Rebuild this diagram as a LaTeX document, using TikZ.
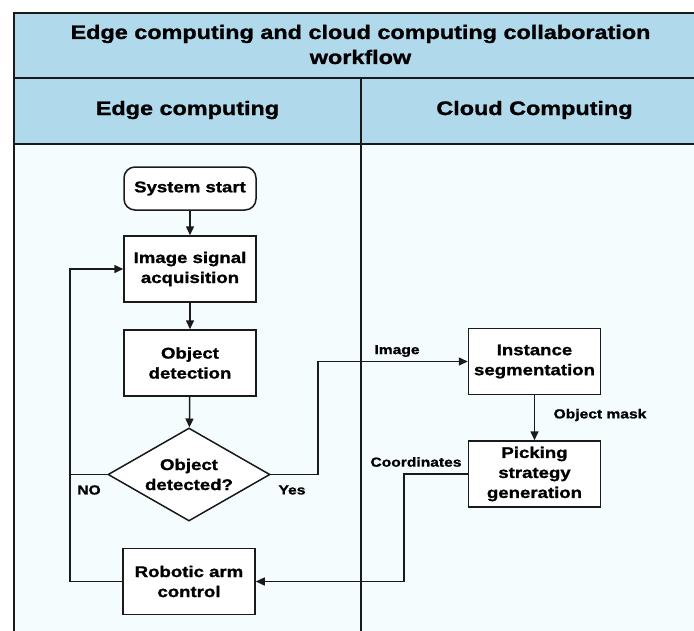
\documentclass[tikz,border=0pt]{standalone}
\usepackage{fontspec}
\setmainfont{Liberation Sans}[FakeStretch=1.2, BoldFeatures={FakeBold=1.2}]
\usetikzlibrary{shapes.geometric,arrows.meta}
\definecolor{hdr}{HTML}{B1D9EC}
\definecolor{bodybg}{HTML}{F5FCFE}
\definecolor{ln}{HTML}{1A1A1A}
\begin{document}
\begin{tikzpicture}[x=1pt,y=-1pt,
  ln/.style={line width=1.5pt, draw=ln},
  box/.style={draw=ln, line width=1.5pt, fill=white, minimum width=132pt, minimum height=66pt,
    align=center, inner sep=2pt, font=\fontsize{15.5}{20}\selectfont\bfseries},
  startbox/.style={box, rounded corners=11pt, minimum height=43pt},
  decision/.style={draw=ln, line width=1.5pt, fill=white, shape=diamond, aspect=1.74,
    minimum width=162pt, minimum height=93pt, inner sep=0pt, align=center,
    font=\fontsize{15.5}{20}\selectfont\bfseries},
  arr/.style={ln, -{Triangle[length=9pt,width=8pt]}},
  lbl/.style={font=\fontsize{13}{16}\selectfont\bfseries, inner sep=0pt},
  hdrtext/.style={font=\fontsize{19.5}{25}\selectfont\bfseries, align=center, inner sep=0pt}]
\useasboundingbox (0,0) rectangle (694,630);
\clip (0,0) rectangle (694,630);
\fill[white] (0,0) rectangle (694,630);
% table
\fill[bodybg] (14,144) rectangle (708,640);
\fill[hdr] (14,13) rectangle (708,144);
\draw[ln] (14,13) rectangle (708,640);
\draw[ln] (14,78) -- (708,78);
\draw[ln] (14,144) -- (708,144);
\draw[ln] (361,78) -- (361,640);
\node[hdrtext] (title) at (360.5,44.5) {Edge computing and cloud computing collaboration\\workflow};
\node[hdrtext] (edgeh) at (187.5,110) {Edge computing};
\node[hdrtext] (cloudh) at (534.5,110) {Cloud Computing};
% nodes
\node[startbox] (start) at (190,188.5) {System start};
\node[box] (acq) at (190,269) {Image signal\\acquisition};
\node[box] (det) at (190,363) {Object\\detection};
\node[decision] (dec) at (189,474.5) {Object\\detected?};
\node[box] (arm) at (189,581.5) {Robotic arm\\control};
\node[box] (seg) at (534.5,361.5) {Instance\\segmentation};
\node[box] (pick) at (534.5,474) {Picking\\strategy\\generation};
\coordinate (loopx) at (70,0);
\coordinate (yesx) at (318,0);
\coordinate (coordx) at (404,0);
% connectors
\draw[arr] (start) -- (acq);
\draw[arr] (acq) -- (det);
\draw[arr] (det) -- (dec);
\draw[arr] (dec.east) -- (dec.east -| yesx) |- (seg.west);
\draw[arr] (seg) -- (pick);
\draw[arr] (pick.west) -- (pick.west -| coordx) |- (arm.east);
\draw[arr] (arm.west) -- (arm.west -| loopx) |- (acq.west);
\draw[ln] (dec.west) -- (dec.west -| loopx);
% labels
\node[lbl] (limage) at (397,351) {Image};
\node[lbl] (lyes) at (292,490) {Yes};
\node[lbl] (lno) at (89,490) {NO};
\node[lbl] (lmask) at (600,415) {Object mask};
\node[lbl] (lcoord) at (416,462) {Coordinates};
\end{tikzpicture}
\end{document}
